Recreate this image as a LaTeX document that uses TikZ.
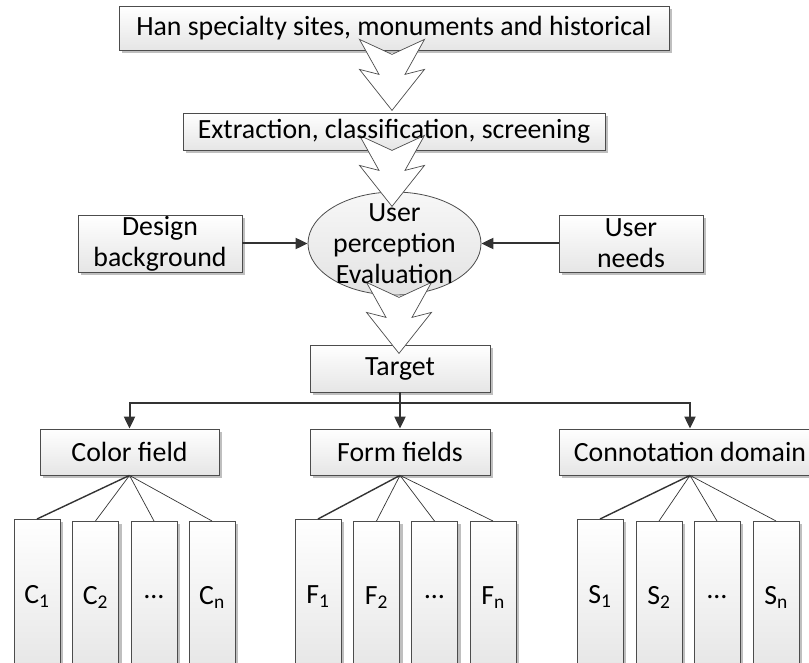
\documentclass[tikz,border=0pt]{standalone}
\usepackage{fontspec}
\setmainfont{Carlito}
\usetikzlibrary{positioning,calc,shapes.geometric,shadows,arrows.meta}

\begin{document}
\begin{tikzpicture}[x=1pt,y=-1pt,
  font=\fontsize{27.8}{31}\selectfont,
  box/.style={draw=black!70,line width=0.8pt,top color=white,bottom color=black!10,
    drop shadow={shadow xshift=3pt,shadow yshift=-3pt,fill=black!25,opacity=1},
    inner sep=0pt,align=center},
  subbox/.style={box,minimum width=46pt,anchor=north},
  conn/.style={draw=black!80,line width=2pt,-{Triangle[length=12pt,width=11pt]}},
  bigarrow/.pic={\draw[draw=black!70,line width=0.7pt,fill=white] (-32.5,0) -- (0,15) -- (32.5,0) -- (13,35) -- (32.5,30) -- (0,71) -- (-32.5,30) -- (-13,35) -- cycle;}]
\useasboundingbox (0,0) rectangle (809,663);

\node[box,minimum width=550pt,minimum height=44pt] (src) at (394,28) {};
\node[box,minimum width=422pt,minimum height=37pt] (extract) at (394,131.5) {};
\node[draw=black!70,line width=0.8pt,ellipse,top color=black!3,bottom color=black!11,minimum width=173pt,minimum height=103pt,inner sep=0pt] (eval) at (394.5,243.5) {};
\node[box,minimum width=164pt,minimum height=57pt] (design) at (160,243.5) {Design\\background};
\node[box,minimum width=144pt,minimum height=57pt] (needs) at (631,243.5) {User\\needs};
\node[box,minimum width=180pt,minimum height=47pt] (target) at (400,368.5) {Target};

\draw[conn] (design) -- (eval);
\draw[conn] (needs) -- (eval);

\pic at ($(src.south)+(-2,-11)$) {bigarrow};
\pic at ($(extract.south)+(-2,-15)$) {bigarrow};
\pic at ($(eval.south)+(4.5,-13)$) {bigarrow};

\node at (src) {Han specialty sites, monuments and historical};
\node at (extract) {Extraction, classification, screening};
\node[align=center] at (eval) {User\\perception\\Evaluation};

\node[box,minimum width=179pt,minimum height=46pt] (color) at (129.5,452) {Color field};
\node[box,minimum width=180pt,minimum height=46pt] (form) at (400,452) {Form fields};
\node[box,minimum width=262pt,minimum height=46pt] (conno) at (690,452) {Connotation domain};

\coordinate (split) at ($(target.south)+(0,11)$);
\draw[conn] (target.south) -- (split) -| (color.north);
\draw[conn] (target.south) -- (split) -| (form.north);
\draw[conn] (target.south) -- (split) -| (conno.north);

\foreach \p/\l/\xa/\xb/\xc/\xd in {color/C/37/95.5/154/212, form/F/318/376.5/434.5/493, conno/S/600/659/717/776}{
  \foreach \x/\t/\top/\h/\w [count=\i] in {\xa/\l\textsubscript{1}/519/154/1.4pt, \xb/\l\textsubscript{2}/521/152/0.7pt, \xc/\ldots/521/152/0.7pt, \xd/\l\textsubscript{n}/521/152/0.7pt}{
    \node[subbox,minimum height=\h pt] (\l\i) at (\x,\top) {\t};
    \draw[line width=\w,black!80] (\p.south) -- (\l\i.north);
  }
}
\end{tikzpicture}
\end{document}
